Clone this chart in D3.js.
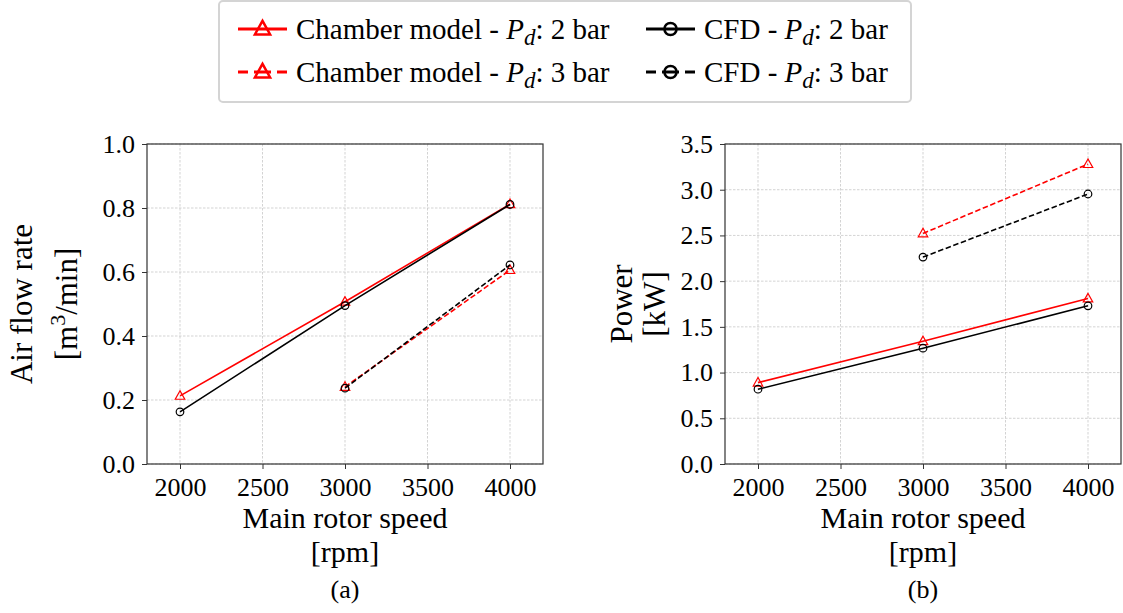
<!DOCTYPE html>
<html>
<head>
<meta charset="utf-8">
<script src="https://cdn.jsdelivr.net/npm/d3@7"></script>
<style>
  html, body { margin: 0; padding: 0; background: #fff; }
  svg { display: block; }
  svg text { font-family: "Liberation Serif", "Times New Roman", serif !important; }
</style>
</head>
<body>
<svg id="chart" width="1123" height="613"></svg>
<script>
// ---- data ----
const speeds2 = [2000, 3000, 4000];
const speeds3 = [3000, 4000];
const xTicks = [2000, 2500, 3000, 3500, 4000];

const flowChamber2 = [0.213, 0.507, 0.812];
const flowCFD2     = [0.163, 0.495, 0.811];
const flowChamber3 = [0.241, 0.606];
const flowCFD3     = [0.237, 0.622];
const flowTicks    = [0.0, 0.2, 0.4, 0.6, 0.8, 1.0];

const powerChamber2 = [0.890, 1.343, 1.810];
const powerCFD2     = [0.818, 1.267, 1.730];
const powerChamber3 = [2.522, 3.280];
const powerCFD3     = [2.263, 2.953];
const powerTicks    = [0.0, 0.5, 1.0, 1.5, 2.0, 2.5, 3.0, 3.5];

const legendLabels = ["Chamber model - ", "Chamber model - ", "CFD - ", "CFD - "];
const legendPressures = ["2 bar", "3 bar", "2 bar", "3 bar"];

// ---- drawing ----
const svg = d3.select("#chart");
const RED = "#ff0000", BLACK = "#000000";

function panel(opts) {
  const {x0, x1, y0, y1, yDomain, yTicks, yFmt, series, yLabelLines, yLabelX, panelLabel} = opts;
  const x = d3.scaleLinear().domain([1800, 4200]).range([x0, x1]);
  const y = d3.scaleLinear().domain(yDomain).range([y1, y0]);
  const g = svg.append("g");

  // grid
  g.append("g").selectAll("line.gx").data(xTicks).join("line")
    .attr("x1", d => x(d)).attr("x2", d => x(d)).attr("y1", y0).attr("y2", y1)
    .attr("stroke", "#c8c8c8").attr("stroke-width", 0.8).attr("stroke-dasharray", "2.5,1.5");
  g.append("g").selectAll("line.gy").data(yTicks).join("line")
    .attr("x1", x0).attr("x2", x1).attr("y1", d => y(d)).attr("y2", d => y(d))
    .attr("stroke", "#c8c8c8").attr("stroke-width", 0.8).attr("stroke-dasharray", "2.5,1.5");

  // axes
  const xAxis = d3.axisBottom(x).tickValues(xTicks).tickSize(5).tickPadding(7).tickFormat(d3.format("d"));
  const ax = g.append("g").attr("transform", `translate(0,${y1})`).call(xAxis);
  const yAxis = d3.axisLeft(y).tickValues(yTicks).tickSize(5).tickPadding(7).tickFormat(yFmt);
  const ay = g.append("g").attr("transform", `translate(${x0},0)`).call(yAxis);
  [ax, ay].forEach(a => {
    a.attr("font-family", null).attr("font-size", null);
    a.select(".domain").remove();
    a.selectAll(".tick line").attr("stroke", "#333");
    a.selectAll(".tick text").attr("font-size", 26).attr("fill", "#000");
  });
  ax.selectAll(".tick text").attr("dy", "0.71em").attr("y", 14);

  // frame
  g.append("rect").attr("x", x0).attr("y", y0).attr("width", x1 - x0).attr("height", y1 - y0)
    .attr("fill", "none").attr("stroke", "#333").attr("stroke-width", 1.2);

  // series
  series.forEach(s => {
    const pts = s.xs.map((xv, i) => [x(xv), y(s.ys[i])]);
    g.append("path").attr("d", d3.line()(pts)).attr("fill", "none")
      .attr("stroke", s.color).attr("stroke-width", 1.6)
      .attr("stroke-dasharray", s.dashed ? "5.5,2.6" : null);
    pts.forEach(p => drawMarker(g, s.marker, p[0], p[1], s.color, 1.0, 1.2));
  });

  // x label
  const cx = (x0 + x1) / 2;
  g.append("text").attr("x", cx).attr("y", 528).attr("text-anchor", "middle")
    .attr("font-size", 30).text("Main rotor speed");
  g.append("text").attr("x", cx).attr("y", 562).attr("text-anchor", "middle")
    .attr("font-size", 30).text("[rpm]");
  g.append("text").attr("x", cx).attr("y", 598).attr("text-anchor", "middle")
    .attr("font-size", 26).text(panelLabel);

  // y label
  const cy = (y0 + y1) / 2;
  yLabelLines.forEach((ln, i) => {
    const t = g.append("text").attr("transform", `translate(${yLabelX[i]},${cy}) rotate(-90)`)
      .attr("text-anchor", "middle").attr("font-size", 31);
    ln(t);
  });
}

function drawMarker(g, type, cx, cy, color, scale, sw) {
  if (type === "tri") {
    const h = 8.5 * scale, w = 9.5 * scale;
    const pts = [[cx, cy - h * 0.6], [cx - w / 2, cy + h * 0.4], [cx + w / 2, cy + h * 0.4]];
    g.append("polygon").attr("points", pts.map(p => p.join(",")).join(" "))
      .attr("fill", "none").attr("stroke", color).attr("stroke-width", sw);
  } else {
    g.append("circle").attr("cx", cx).attr("cy", cy).attr("r", 3.8 * scale)
      .attr("fill", "none").attr("stroke", color).attr("stroke-width", sw);
  }
}

panel({
  x0: 147, x1: 543, y0: 144, y1: 464, yDomain: [0, 1.0], yTicks: flowTicks,
  yFmt: d3.format(".1f"),
  series: [
    {xs: speeds2, ys: flowChamber2, color: RED, marker: "tri", dashed: false},
    {xs: speeds3, ys: flowChamber3, color: RED, marker: "tri", dashed: true},
    {xs: speeds2, ys: flowCFD2, color: BLACK, marker: "circ", dashed: false},
    {xs: speeds3, ys: flowCFD3, color: BLACK, marker: "circ", dashed: true}
  ],
  yLabelLines: [
    t => t.text("Air flow rate"),
    t => { t.append("tspan").text("[m");
           t.append("tspan").attr("font-size", 22).attr("dy", -12).text("3");
           t.append("tspan").attr("dy", 12).text("/min]"); }
  ],
  yLabelX: [32, 77],
  panelLabel: "(a)"
});

panel({
  x0: 725, x1: 1121, y0: 144, y1: 464, yDomain: [0, 3.5], yTicks: powerTicks,
  yFmt: d3.format(".1f"),
  series: [
    {xs: speeds2, ys: powerChamber2, color: RED, marker: "tri", dashed: false},
    {xs: speeds3, ys: powerChamber3, color: RED, marker: "tri", dashed: true},
    {xs: speeds2, ys: powerCFD2, color: BLACK, marker: "circ", dashed: false},
    {xs: speeds3, ys: powerCFD3, color: BLACK, marker: "circ", dashed: true}
  ],
  yLabelLines: [
    t => t.text("Power"),
    t => t.text("[kW]")
  ],
  yLabelX: [632, 665],
  panelLabel: "(b)"
});

// ---- legend ----
const lg = svg.append("g");
lg.append("rect").attr("x", 219).attr("y", 1).attr("width", 692).attr("height", 101).attr("rx", 4)
  .attr("fill", "#fff").attr("stroke", "#d4d4d4").attr("stroke-width", 2);
const legendItems = [
  {col: 0, row: 0, color: RED, marker: "tri", dashed: false},
  {col: 0, row: 1, color: RED, marker: "tri", dashed: true},
  {col: 1, row: 0, color: BLACK, marker: "circ", dashed: false},
  {col: 1, row: 1, color: BLACK, marker: "circ", dashed: true}
];
const colX = [238, 646];
const rowY = [29, 72];
legendItems.forEach((it, i) => {
  const lx = colX[it.col], ly = rowY[it.row];
  if (it.dashed) {
    lg.append("line").attr("x1", lx).attr("x2", lx + 10).attr("y1", ly).attr("y2", ly)
      .attr("stroke", it.color).attr("stroke-width", 3);
    lg.append("line").attr("x1", lx + 16).attr("x2", lx + 33).attr("y1", ly).attr("y2", ly)
      .attr("stroke", it.color).attr("stroke-width", 3);
    lg.append("line").attr("x1", lx + 39).attr("x2", lx + 49).attr("y1", ly).attr("y2", ly)
      .attr("stroke", it.color).attr("stroke-width", 3);
  } else {
    lg.append("line").attr("x1", lx).attr("x2", lx + 49).attr("y1", ly).attr("y2", ly)
      .attr("stroke", it.color).attr("stroke-width", 3);
  }
  drawMarker(lg, it.marker, lx + 24.5, ly, it.color, 1.6, 2.5);
  const t = lg.append("text").attr("x", lx + 58).attr("y", ly + 10).attr("font-size", 29);
  t.append("tspan").text(legendLabels[i]);
  t.append("tspan").attr("font-style", "italic").text("P");
  t.append("tspan").attr("font-style", "italic").attr("font-size", 23).attr("dy", 6).text("d");
  t.append("tspan").attr("dy", -6).text(": " + legendPressures[i]);
});
</script>
</body>
</html>
